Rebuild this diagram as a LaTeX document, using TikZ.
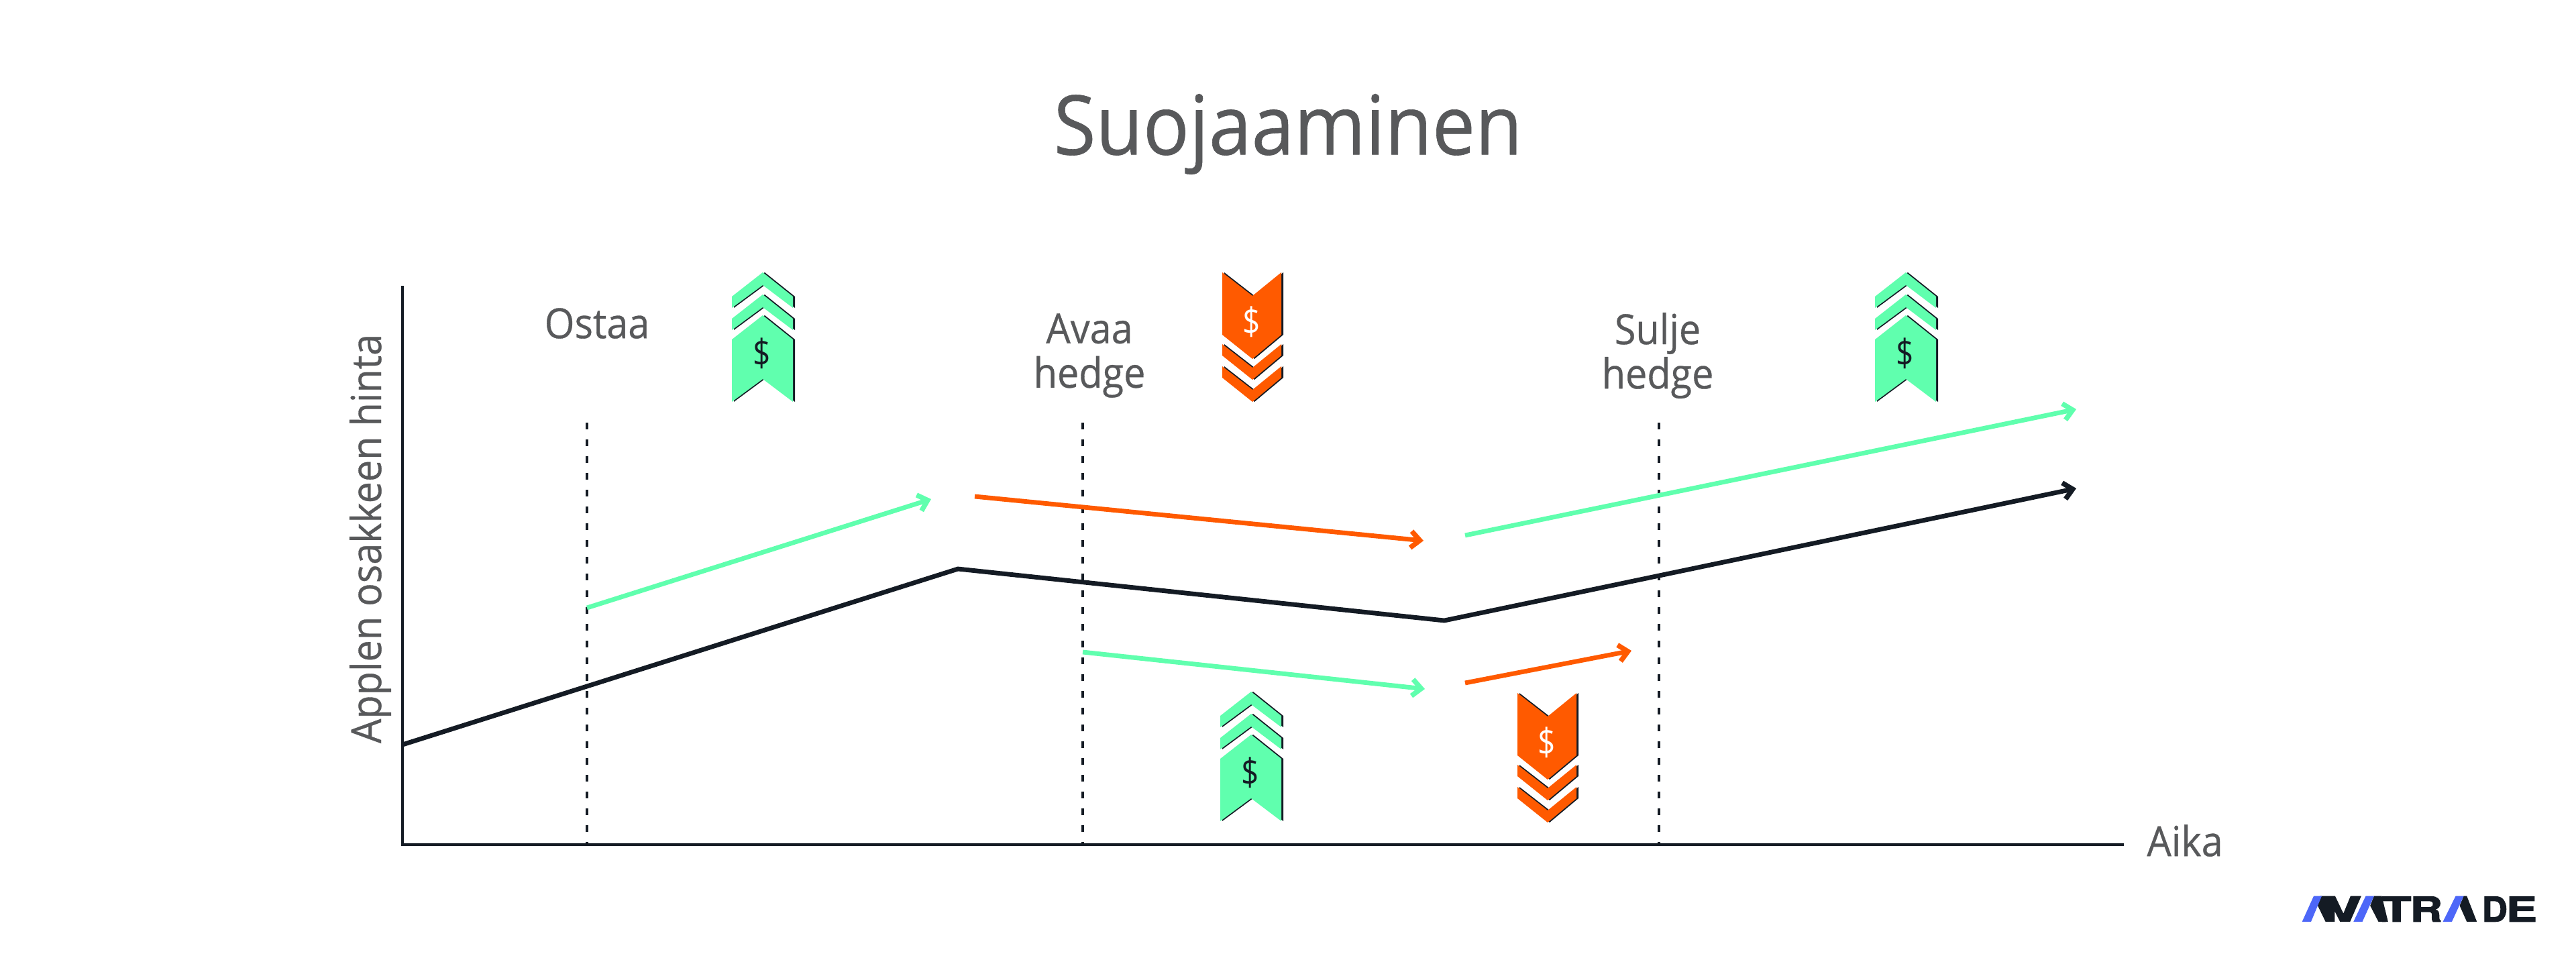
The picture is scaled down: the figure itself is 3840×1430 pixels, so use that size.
\documentclass[tikz,border=0pt]{standalone}
\usepackage{fontspec}
\setmainfont[FakeStretch=0.93,FakeBold=0.5]{Open Sans}
\newfontfamily\dollarfont[FakeStretch=0.82]{Open Sans}
\newfontfamily\logofont[BoldFeatures={FakeBold=2}]{TeX Gyre Heros}
\usetikzlibrary{arrows.meta}
\definecolor{mint}{HTML}{60FFAE}
\definecolor{flame}{HTML}{FF5A00}
\definecolor{ink}{HTML}{141B24}
\definecolor{txt}{HTML}{58595B}
\definecolor{logoblue}{HTML}{4D67F8}
\tikzset{
  label text/.style={text=txt,inner sep=0pt,align=center,font=\fontsize{17.6}{18.8}\selectfont},
  axisline/.style={draw=ink,line width=1pt,line cap=rect},
  guide/.style={draw=ink,line width=1.1pt,dash pattern=on 2.85pt off 4.26pt},
  trend/.style={line width=1.95pt,-{Straight Barb[length=3.8pt,width=7pt,line width=2.1pt]}},
}
\newcommand{\upicon}[3]{%
\begin{scope}[shift={(#1,#2)}]
 \foreach \dx/\cc in {3/ink,0/mint}{
 \fill[\cc,shift={(\dx,0)}] (0,0)--(45,36)--(45,53)--(0,19)--(-46,53)--(-46,36)--cycle;
 \fill[\cc,shift={(\dx,0)}] (0,33)--(45,69)--(45,86)--(0,52)--(-46,86)--(-46,69)--cycle;
 \fill[\cc,shift={(\dx,0)}] (0,64)--(45,100)--(45,193)--(0,159)--(-46,193)--(-46,100)--cycle;
 }
 \node[inner sep=0pt,text=ink,font=\dollarfont\fontsize{16}{16}\selectfont] (#3) at (-1,121) {\$};
\end{scope}}
\newcommand{\downicon}[3]{%
\begin{scope}[shift={(#1,#2)}]
 \foreach \dx/\cc in {3/ink,0/flame}{
 \fill[\cc,shift={(\dx,0)}] (-45,0)--(0,35)--(43,0)--(43,93)--(0,129)--(-45,93)--cycle;
 \fill[\cc,shift={(\dx,0)}] (-45,107)--(0,142)--(43,107)--(43,124)--(0,160)--(-45,124)--cycle;
 \fill[\cc,shift={(\dx,0)}] (-45,140)--(0,175)--(43,140)--(43,157)--(0,193)--(-45,157)--cycle;
 }
 \node[inner sep=0pt,text=white,font=\dollarfont\fontsize{16}{16}\selectfont] (#3) at (-1,74) {\$};
\end{scope}}
\newcommand{\lgl}[3]{\makebox[#1\dimexpr 0.01cm\relax][l]{\scalebox{#2}[1]{#3}}}
\begin{document}
\begin{tikzpicture}[x=0.01cm,y=-0.01cm]
\useasboundingbox (0,0) rectangle (3840,1430);
\node[inner sep=0pt,text=txt,font=\fontsize{35}{35}\selectfont] (title) at (1920,200) {Suojaaminen};
% axes
\coordinate (origin) at (600,1259);
\coordinate (ytop) at (600,428);
\coordinate (xend) at (3164,1259);
\draw[axisline] (ytop) -- (origin) -- (xend);
% guides
\coordinate (g1t) at (875,630); \coordinate (g1b) at (875,1259);
\coordinate (g2t) at (1614,630); \coordinate (g2b) at (1614,1259);
\coordinate (g3t) at (2473,630); \coordinate (g3b) at (2473,1259);
\draw[guide] (g1t) -- (g1b);
\draw[guide] (g2t) -- (g2b);
\draw[guide] (g3t) -- (g3b);
% price
\coordinate (p0) at (600,1110); \coordinate (p1) at (1428,848);
\coordinate (p2) at (2153,925); \coordinate (p3) at (3095,728);
\draw[trend,ink] (p0) -- (p1) -- (p2) -- (p3);
% trades
\coordinate (a1) at (875,906); \coordinate (a2) at (1388,744);
\draw[trend,mint] (a1) -- (a2);
\coordinate (b1) at (1453,740); \coordinate (b2) at (2122,806);
\draw[trend,flame] (b1) -- (b2);
\coordinate (c1) at (2184,798); \coordinate (c2) at (3095,610);
\draw[trend,mint] (c1) -- (c2);
\coordinate (d1) at (1614,972); \coordinate (d2) at (2124,1027);
\draw[trend,mint] (d1) -- (d2);
\coordinate (e1) at (2184,1018); \coordinate (e2) at (2432,970);
\draw[trend,flame] (e1) -- (e2);
% labels
\node[label text] (ostaa) at (890,482) {Ostaa};
\node[label text] (avaa) at (1624,530) {Avaa\\hedge};
\node[label text] (sulje) at (2471,530) {Sulje\\hedge};
\node[label text] (aika) at (3257,1253) {Aika};
\node[label text,rotate=90] (ylab) at (552,803) {Applen osakkeen hinta};
% icons
\upicon{1137}{406}{d1sym}
\upicon{2841}{406}{d2sym}
\upicon{1865}{1031}{d3sym}
\downicon{1867}{406}{d4sym}
\downicon{2307}{1033}{d5sym}
% logo
\node[inner sep=0pt,text=ink,anchor=base west,font=\logofont\bfseries\fontsize{14.6}{15}\selectfont] (logo) at (3430,1373.8)
 {\lgl{20}{1.3}{A}\lgl{58}{2}{V}\lgl{41}{1.3}{A}\lgl{43}{1.43}{T}\lgl{51}{1.3}{R}\lgl{56}{1.3}{A}\lgl{36}{1.03}{D}\lgl{51}{1.35}{E}};
\begin{scope}[shift={(3425,1330)},x=0.00333cm,y=-0.00333cm]
 \fill[white] (15,10) rectangle (377,140);
 \fill[ink] (100,17)--(168,17)--(205,95)--(237,17)--(285,17)--(235,132)--(190,132)--(166,85)--(166,132)--(125,132)--(90,60)--cycle;
 \fill[logoblue] (20,132)--(60,132)--(108,17)--(72,17)--cycle;
 \fill[ink] (342,17)--(377,17)--(405,132)--(362,132)--(325,60)--cycle;
 \fill[logoblue] (250,132)--(290,132)--(342,17)--(305,17)--cycle;
\end{scope}
\begin{scope}[shift={(3590,1330)},x=0.00333cm,y=-0.00333cm]
 \fill[white] (152,10) rectangle (311,140);
 \fill[ink] (248,17)--(262,17)--(307,132)--(262,132)--(230,60)--cycle;
 \fill[logoblue] (155,132)--(195,132)--(248,17)--(212,17)--cycle;
\end{scope}
\end{tikzpicture}
\end{document}
